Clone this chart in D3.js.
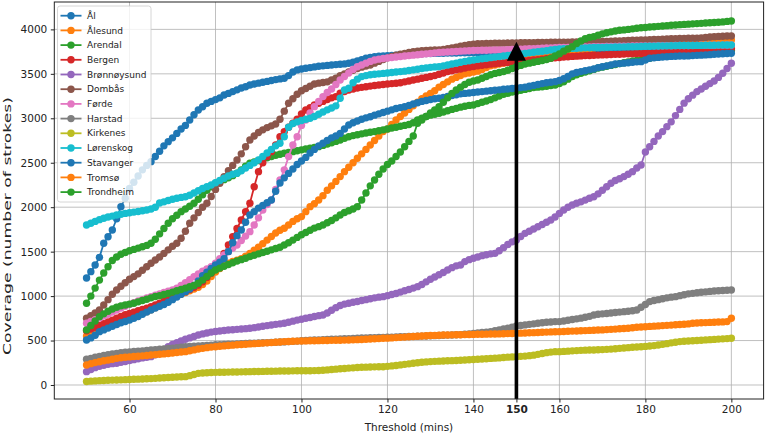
<!DOCTYPE html>
<html>
<head>
<meta charset="utf-8">
<script src="https://cdn.jsdelivr.net/npm/d3@7"></script>
<style>
  body { margin: 0; background: #fff; }
  svg { display: block; font-family: "DejaVu Sans", sans-serif; }
</style>
</head>
<body>
<svg id="chart" width="767" height="435"></svg>
<script>
// thresholds in minutes, one reading per minute
const minutes = d3.range(50, 201);

// coverage (number of strokes) per city
const al = [1204,1275,1350,1436,1594,1668,1744,1870,2006,2100,
  2210,2280,2350,2420,2470,2512,2570,2630,2690,2737,
  2780,2830,2880,2920,2980,3040,3094,3130,3169,3190,
  3210,3230,3262,3280,3300,3320,3340,3355,3375,3385,
  3395,3405,3415,3425,3435,3443,3450,3480,3520,3544,
  3555,3563,3570,3578,3585,3590,3595,3600,3604,3608,
  3612,3619,3630,3645,3660,3675,3685,3694,3698,3702,
  3705,3708,3711,3714,3717,3720,3722,3724,3726,3728,
  3729,3730,3731,3732,3733,3734,3735,3736,3737,3738,
  3739,3740,3740,3741,3741,3742,3742,3743,3743,3744,
  3744,3745,3745,3746,3746,3747,3747,3748,3749,3750,
  3750,3750,3751,3751,3752,3752,3753,3753,3754,3754,
  3754,3755,3755,3755,3756,3756,3756,3757,3757,3757,
  3757,3758,3758,3758,3758,3759,3759,3759,3759,3760,
  3760,3760,3760,3760,3761,3761,3761,3761,3762,3762,
  3762];
const alesund = [550,575,600,625,650,670,690,710,730,750,
  765,780,795,810,825,845,870,895,925,956,
  980,1000,1020,1040,1060,1080,1100,1130,1170,1220,
  1270,1310,1350,1370,1390,1405,1420,1450,1480,1515,
  1550,1590,1630,1670,1710,1740,1763,1800,1840,1870,
  1894,1950,2006,2040,2081,2130,2190,2240,2290,2344,
  2400,2450,2500,2550,2600,2650,2700,2750,2800,2850,
  2880,2930,2980,3020,3060,3100,3140,3180,3220,3250,
  3280,3310,3350,3380,3410,3440,3460,3480,3500,3510,
  3520,3530,3550,3570,3590,3600,3610,3620,3630,3640,
  3650,3660,3670,3680,3690,3700,3710,3720,3730,3735,
  3740,3745,3750,3755,3760,3765,3770,3780,3790,3795,
  3800,3805,3810,3815,3820,3825,3830,3832,3835,3838,
  3840,3842,3844,3846,3848,3850,3852,3854,3856,3858,
  3860,3862,3864,3866,3868,3870,3872,3874,3876,3878,
  3881];
const arendal = [919,1000,1090,1180,1260,1330,1400,1440,1470,1490,
  1510,1525,1540,1555,1570,1594,1640,1700,1760,1819,
  1870,1910,1950,1980,2010,2044,2090,2140,2190,2230,
  2269,2290,2310,2330,2355,2381,2420,2460,2494,2510,
  2525,2540,2555,2570,2585,2595,2606,2615,2625,2635,
  2645,2655,2663,2672,2681,2695,2710,2725,2740,2756,
  2775,2793,2805,2815,2825,2835,2843,2850,2860,2870,
  2880,2890,2900,2910,2920,2930,2950,2981,3000,3020,
  3035,3045,3056,3070,3085,3100,3112,3125,3135,3145,
  3150,3165,3180,3195,3210,3230,3250,3270,3282,3295,
  3305,3315,3325,3335,3345,3350,3355,3360,3368,3375,
  3390,3410,3440,3470,3490,3506,3520,3535,3550,3565,
  3575,3585,3595,3605,3615,3625,3635,3645,3650,3656,
  3665,3675,3685,3692,3698,3704,3710,3715,3720,3725,
  3730,3735,3740,3744,3748,3752,3756,3760,3764,3767,
  3769];
const bergen = [610,630,650,670,690,710,730,750,770,790,
  805,820,835,850,865,881,900,920,940,960,
  980,1000,1025,1050,1075,1100,1125,1160,1210,1256,
  1330,1405,1481,1575,1669,1760,1856,1950,2044,2230,
  2400,2500,2570,2625,2700,2793,2850,2900,2944,2990,
  3050,3094,3120,3150,3169,3190,3210,3230,3244,3282,
  3300,3319,3330,3340,3348,3355,3362,3368,3375,3380,
  3385,3390,3394,3400,3410,3420,3430,3440,3450,3460,
  3470,3480,3495,3510,3525,3535,3545,3555,3565,3575,
  3583,3590,3597,3603,3609,3614,3619,3624,3628,3632,
  3636,3640,3645,3650,3655,3660,3665,3670,3675,3680,
  3684,3688,3692,3696,3699,3702,3705,3707,3709,3711,
  3713,3715,3717,3719,3721,3723,3725,3727,3728,3729,
  3730,3731,3735,3740,3744,3748,3752,3756,3760,3764,
  3767,3770,3772,3775,3777,3779,3781,3783,3785,3786,
  3788];
const bronnoysund = [150,175,195,210,222,232,240,244,255,265,
  275,285,295,305,312,319,340,370,400,431,
  455,475,495,515,530,545,563,575,585,595,
  602,608,613,618,622,626,630,634,638,645,
  652,660,668,675,682,688,694,705,718,730,
  740,750,760,770,780,788,810,840,870,895,
  910,919,930,940,950,960,970,980,988,994,
  1005,1018,1030,1045,1060,1075,1090,1106,1130,1160,
  1190,1215,1240,1265,1294,1320,1340,1350,1388,1410,
  1425,1440,1455,1465,1475,1481,1510,1545,1580,1610,
  1631,1670,1706,1730,1755,1780,1805,1830,1856,1890,
  1930,1969,2000,2025,2044,2060,2080,2100,2118,2150,
  2190,2230,2270,2300,2320,2344,2370,2400,2440,2475,
  2620,2680,2740,2800,2850,2906,2960,3030,3100,3170,
  3220,3260,3300,3330,3360,3390,3420,3460,3506,3560,
  3619];
const dombas = [750,780,810,844,900,960,1020,1069,1110,1150,
  1190,1219,1250,1290,1330,1370,1406,1440,1480,1520,
  1560,1594,1650,1730,1819,1880,1940,2000,2044,2120,
  2200,2270,2344,2410,2470,2531,2600,2680,2756,2800,
  2840,2870,2895,2915,2935,2990,3080,3169,3220,3270,
  3310,3335,3360,3385,3395,3402,3410,3430,3450,3478,
  3500,3520,3540,3560,3575,3588,3600,3620,3640,3660,
  3680,3695,3710,3720,3730,3740,3748,3755,3760,3764,
  3766,3768,3769,3775,3782,3790,3800,3810,3820,3828,
  3834,3838,3840,3842,3843,3844,3844,3845,3846,3847,
  3848,3849,3850,3850,3851,3852,3853,3854,3855,3856,
  3856,3857,3857,3858,3858,3859,3859,3860,3861,3862,
  3863,3865,3867,3869,3871,3873,3875,3877,3879,3880,
  3882,3884,3886,3888,3890,3892,3894,3896,3898,3899,
  3900,3900,3900,3905,3910,3914,3918,3921,3923,3925,
  3926];
const forde = [694,715,735,755,775,795,820,844,865,885,
  905,925,945,960,978,994,1010,1025,1040,1055,
  1070,1088,1120,1150,1185,1219,1250,1280,1305,1331,
  1370,1420,1463,1500,1540,1575,1625,1675,1725,1800,
  1880,1969,2030,2081,2200,2306,2420,2569,2700,2793,
  2920,2981,3060,3131,3190,3244,3290,3330,3380,3430,
  3470,3510,3550,3580,3600,3620,3640,3656,3665,3672,
  3678,3684,3690,3694,3700,3705,3710,3715,3720,3725,
  3730,3735,3740,3743,3746,3749,3752,3755,3758,3760,
  3762,3764,3765,3766,3767,3768,3769,3770,3772,3774,
  3776,3778,3780,3782,3784,3786,3788,3790,3792,3794,
  3796,3797,3798,3799,3800,3801,3802,3803,3804,3805,
  3806,3807,3808,3809,3810,3811,3812,3813,3813,3814,
  3814,3815,3815,3816,3816,3817,3817,3818,3818,3819,
  3819,3820,3820,3821,3821,3822,3822,3823,3823,3824,
  3824];
const harstad = [289,300,312,322,332,340,348,356,362,368,
  372,376,380,384,388,394,398,402,406,410,
  414,420,426,431,434,437,440,443,446,449,
  452,454,456,458,460,462,464,466,469,471,
  473,475,477,479,481,483,485,488,491,494,
  497,500,503,506,508,510,512,514,516,518,
  520,522,524,526,528,530,532,533,535,536,
  538,539,541,542,544,545,547,548,550,551,
  553,555,557,559,561,563,565,567,570,575,
  580,585,590,595,600,610,620,630,640,650,
  664,670,676,682,688,694,700,705,709,713,
  713,720,728,736,744,752,762,772,788,796,
  800,805,810,815,820,825,830,835,844,875,
  905,938,950,960,970,980,988,994,1005,1015,
  1025,1031,1038,1043,1048,1053,1057,1060,1063,1066,
  1069];
const kirkenes = [40,43,46,49,51,53,55,56,58,60,
  62,64,66,68,70,72,75,78,81,84,
  87,90,92,94,105,118,131,135,138,140,
  142,143,144,145,146,147,148,149,150,151,
  152,153,154,155,156,157,158,158,159,160,
  160,161,161,162,163,166,170,174,178,182,
  186,190,193,196,199,201,203,204,205,206,
  210,215,220,226,232,238,244,250,256,260,
  263,266,268,270,272,274,276,278,281,284,
  287,290,293,296,299,302,305,309,313,316,
  319,322,325,330,336,345,355,364,370,375,
  375,378,381,384,387,390,392,393,394,396,
  398,401,404,408,412,416,420,424,428,431,
  434,438,443,450,457,465,474,481,488,492,
  495,498,501,504,507,510,513,516,519,522,
  525];
const lorenskog = [1800,1820,1840,1860,1875,1890,1900,1912,1920,1930,
  1938,1945,1952,1960,1968,1980,2000,2047,2060,2075,
  2090,2100,2110,2118,2135,2160,2185,2210,2231,2250,
  2275,2300,2325,2350,2370,2381,2410,2440,2470,2500,
  2531,2570,2610,2650,2690,2719,2793,2900,2940,2960,
  2975,2990,3000,3020,3045,3070,3095,3115,3140,3225,
  3319,3338,3400,3440,3469,3480,3490,3495,3500,3505,
  3510,3515,3520,3525,3530,3537,3545,3552,3560,3567,
  3573,3578,3581,3590,3600,3610,3620,3630,3640,3648,
  3656,3663,3670,3676,3682,3688,3694,3700,3706,3712,
  3718,3724,3730,3736,3742,3748,3754,3760,3768,3775,
  3780,3782,3784,3786,3788,3790,3792,3794,3796,3797,
  3798,3799,3800,3801,3802,3803,3804,3805,3806,3808,
  3810,3811,3812,3813,3814,3815,3816,3817,3818,3818,
  3819,3819,3820,3820,3821,3821,3822,3823,3824,3824,
  3825];
const stavanger = [506,530,560,600,620,640,660,680,700,715,
  730,750,770,795,820,843,865,885,905,930,
  960,990,1020,1050,1080,1120,1170,1230,1270,1310,
  1350,1380,1420,1500,1600,1680,1744,1830,1912,1950,
  1990,2020,2050,2081,2180,2272,2330,2380,2430,2480,
  2520,2560,2610,2650,2690,2720,2750,2780,2800,2830,
  2880,2925,2950,2970,2990,3005,3018,3035,3050,3065,
  3080,3095,3110,3120,3130,3145,3160,3175,3190,3200,
  3210,3220,3225,3235,3245,3255,3265,3275,3280,3285,
  3290,3295,3300,3305,3310,3315,3320,3326,3330,3335,
  3340,3345,3350,3360,3370,3380,3390,3400,3405,3412,
  3425,3445,3470,3500,3515,3525,3535,3545,3555,3570,
  3580,3590,3600,3610,3615,3620,3625,3630,3635,3637,
  3655,3675,3680,3685,3690,3693,3696,3698,3700,3700,
  3702,3705,3708,3710,3713,3716,3720,3723,3726,3729,
  3731];
const tromso = [225,240,252,262,272,280,290,300,306,312,
  316,320,324,328,332,338,342,346,350,354,
  360,366,372,375,385,395,405,412,420,426,
  431,436,440,444,448,452,456,459,462,465,
  468,471,474,477,480,483,488,490,492,494,
  495,496,497,498,499,500,501,502,503,504,
  505,506,508,510,512,514,517,520,522,525,
  527,530,533,536,539,542,545,548,551,554,
  556,558,560,562,563,564,565,566,567,568,
  569,570,571,572,573,574,575,576,578,580,
  581,583,585,587,589,591,593,595,597,599,
  600,602,604,606,608,610,612,614,616,618,
  620,623,626,629,632,635,638,644,650,653,
  656,659,662,665,668,671,674,677,680,683,
  687,694,697,700,702,704,706,708,710,713,
  750];
const trondheim = [620,670,720,769,800,830,855,875,890,900,
  910,919,935,950,965,980,995,1005,1018,1031,
  1045,1060,1075,1090,1105,1120,1144,1180,1220,1260,
  1294,1315,1335,1355,1375,1395,1410,1425,1444,1460,
  1475,1490,1505,1520,1535,1550,1575,1600,1630,1660,
  1690,1715,1740,1765,1781,1800,1825,1850,1880,1912,
  1940,1960,1980,2006,2081,2160,2240,2306,2370,2430,
  2480,2520,2570,2620,2680,2740,2800,2944,2980,3020,
  3060,3095,3131,3180,3230,3280,3319,3350,3380,3405,
  3420,3431,3450,3470,3490,3505,3515,3525,3540,3560,
  3580,3595,3610,3620,3630,3640,3650,3660,3675,3700,
  3725,3755,3780,3806,3840,3870,3895,3910,3919,3935,
  3950,3962,3972,3982,3990,3994,4000,4006,4012,4018,
  4022,4026,4030,4034,4038,4042,4046,4050,4053,4056,
  4059,4062,4065,4068,4071,4074,4077,4080,4084,4090,
  4095];

const cities = ["Ål", "Ålesund", "Arendal", "Bergen", "Brønnøysund", "Dombås", "Førde",
  "Harstad", "Kirkenes", "Lørenskog", "Stavanger", "Tromsø", "Trondheim"];
const values = [al, alesund, arendal, bergen, bronnoysund, dombas, forde,
  harstad, kirkenes, lorenskog, stavanger, tromso, trondheim];
const colors = ["#1f77b4", "#ff7f0e", "#2ca02c", "#d62728", "#9467bd", "#8c564b", "#e377c2",
  "#7f7f7f", "#bcbd22", "#17becf", "#1f77b4", "#ff7f0e", "#2ca02c"];

const xTicks = [60, 80, 100, 120, 140, 150, 160, 180, 200];
const yTicks = [0, 500, 1000, 1500, 2000, 2500, 3000, 3500, 4000];
const marked = 150;     // threshold shown by the arrow
const arrowTop = 3862;  // where the arrow tip points

const svg = d3.select("#chart");
const pLeft = 54.3, pRight = 763.6, pTop = 2, pBottom = 399;

const x = d3.scaleLinear().domain([42.5, 207.5]).range([pLeft, pRight]);
const y = d3.scaleLinear().domain([-157.5, 4308]).range([pBottom, pTop]);

// grid
const grid = svg.append("g").attr("stroke", "#b0b0b0").attr("stroke-width", 0.8);
grid.selectAll(".gx").data(xTicks).enter().append("line")
  .attr("x1", d => x(d)).attr("x2", d => x(d)).attr("y1", pTop).attr("y2", pBottom);
grid.selectAll(".gy").data(yTicks).enter().append("line")
  .attr("y1", d => y(d)).attr("y2", d => y(d)).attr("x1", pLeft).attr("x2", pRight);

// series: line + markers, in legend order
const line = d3.line().x((d, i) => x(minutes[i])).y(d => y(d));
const plot = svg.append("g");
values.forEach(function(serie, k) {
  const g = plot.append("g");
  g.append("path").attr("d", line(serie)).attr("fill", "none")
    .attr("stroke", colors[k]).attr("stroke-width", 1.8);
  g.selectAll("circle").data(serie).enter().append("circle")
    .attr("cx", (d, i) => x(minutes[i])).attr("cy", d => y(d))
    .attr("r", 3.7).attr("fill", colors[k]);
});

// arrow at the marked threshold
const ax = x(marked);
svg.append("line").attr("x1", ax).attr("x2", ax)
  .attr("y1", pBottom).attr("y2", y(arrowTop) + 16)
  .attr("stroke", "#000").attr("stroke-width", 3.6);
svg.append("path")
  .attr("d", "M" + ax + "," + y(arrowTop) + "L" + (ax + 9.5) + "," + (y(arrowTop) + 19) +
    "L" + (ax - 9.5) + "," + (y(arrowTop) + 19) + "Z")
  .attr("fill", "#000");

// axes box
svg.append("rect").attr("x", pLeft).attr("y", pTop)
  .attr("width", pRight - pLeft).attr("height", pBottom - pTop)
  .attr("fill", "none").attr("stroke", "#222").attr("stroke-width", 1);

// x axis
const xa = svg.append("g").attr("transform", "translate(0," + pBottom + ")")
  .call(d3.axisBottom(x).tickValues(xTicks).tickFormat(d3.format("d")).tickSize(3.5).tickPadding(3.5));
xa.select(".domain").remove();
xa.selectAll("text").attr("font-size", 10.5).attr("fill", "#222")
  .attr("font-family", "DejaVu Sans")
  .attr("font-weight", d => d === marked ? "bold" : "normal");
xa.selectAll("line").attr("stroke", "#222");

// y axis
const ya = svg.append("g").attr("transform", "translate(" + pLeft + ",0)")
  .call(d3.axisLeft(y).tickValues(yTicks).tickFormat(d3.format("d")).tickSize(3.5).tickPadding(3.5));
ya.select(".domain").remove();
ya.selectAll("text").attr("font-size", 10.5).attr("fill", "#222").attr("font-family", "DejaVu Sans");
ya.selectAll("line").attr("stroke", "#222");

svg.append("text").attr("x", (pLeft + pRight) / 2).attr("y", 431)
  .attr("text-anchor", "middle").attr("font-size", 10.5).attr("fill", "#222")
  .text("Threshold (mins)");
svg.append("text").attr("transform", "translate(11,226) rotate(-90)")
  .attr("text-anchor", "middle").attr("font-size", 10.5).attr("fill", "#222")
  .attr("textLength", 258).attr("lengthAdjust", "spacingAndGlyphs")
  .text("Coverage (number of strokes)");

// legend
const legend = svg.append("g");
legend.append("rect").attr("x", 57.5).attr("y", 6).attr("width", 93.5).attr("height", 196)
  .attr("rx", 2.5).attr("fill", "#fff").attr("fill-opacity", 0.8)
  .attr("stroke", "#cccccc").attr("stroke-width", 0.8);
const item = legend.selectAll(".item").data(cities).enter().append("g")
  .attr("transform", (d, i) => "translate(0," + (15.7 + i * 14.7) + ")");
item.append("line").attr("x1", 60.5).attr("x2", 81.5)
  .attr("stroke", (d, i) => colors[i]).attr("stroke-width", 1.8);
item.append("circle").attr("cx", 71).attr("r", 3.7).attr("fill", (d, i) => colors[i]);
item.append("text").attr("x", 87).attr("dy", "0.35em").attr("font-size", 9)
  .attr("fill", "#222").text(d => d);
</script>
</body>
</html>
